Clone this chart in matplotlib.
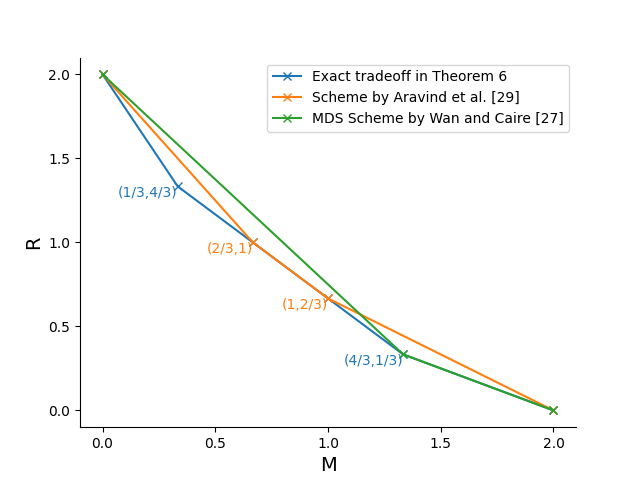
import numpy as np
import matplotlib.pyplot as plt

# memory-rate tradeoff points
exact_M = [0, 1/3, 2/3, 1, 4/3, 2]
exact_R = [2, 4/3, 1, 2/3, 1/3, 0]

aravind_M = [0, 2/3, 1, 2]
aravind_R = [2, 1, 2/3, 0]

mds_M = [0, 4/3, 2]
mds_R = [2, 1/3, 0]

blue_labels = [(1/3, 4/3, '(1/3,4/3)'), (4/3, 1/3, '(4/3,1/3)')]
orange_labels = [(2/3, 1, '(2/3,1)'), (1, 2/3, '(1,2/3)')]

ticks = [0.0, 0.5, 1.0, 1.5, 2.0]

fig, ax = plt.subplots(figsize=(6.4, 4.8), dpi=100)

ax.plot(exact_M, exact_R, marker='x', label='Exact tradeoff in Theorem 6')
ax.plot(aravind_M, aravind_R, marker='x', label='Scheme by Aravind et al. [29]')
ax.plot(mds_M, mds_R, marker='x', label='MDS Scheme by Wan and Caire [27]')

for x, y, s in blue_labels:
    ax.text(x, y, s, color='C0', ha='right', va='top', fontsize=10)
for x, y, s in orange_labels:
    ax.text(x, y, s, color='C1', ha='right', va='top', fontsize=10)

ax.set_xticks(ticks)
ax.set_yticks(ticks)
ax.set_xlabel('M', fontsize=14)
ax.set_ylabel('R', fontsize=14)
ax.spines['top'].set_visible(False)
ax.spines['right'].set_visible(False)
ax.legend(loc='upper right')

plt.savefig('out.png')
